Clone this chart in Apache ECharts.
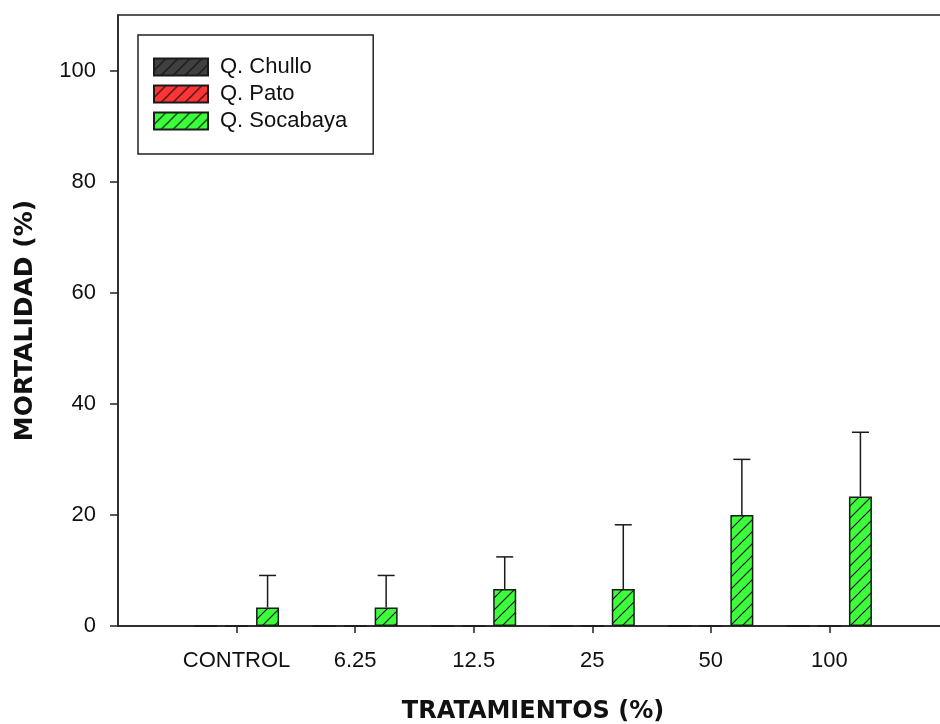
<!DOCTYPE html>
<html>
<head>
<meta charset="utf-8">
<script src="https://cdn.jsdelivr.net/npm/echarts@6/dist/echarts.min.js"></script>
<style>
html,body{margin:0;padding:0;background:#fff;}
#chart{width:940px;height:724px;}
</style>
</head>
<body>
<div id="chart"></div>
<script>
// ---- data ----
const categories = ['', 'CONTROL', '6.25', '12.5', '25', '50', '100', ''];
const seriesNames = ['Q. Chullo', 'Q. Pato', 'Q. Socabaya'];
const chulloValues = [null, 0, 0, 0, 0, 0, 0, null];
const patoValues = [null, 0, 0, 0, 0, 0, 0, null];
const socabayaValues = [null, 3.33, 3.33, 6.67, 6.67, 20, 23.33, null];
const socabayaErrors = [null, 5.77, 5.77, 5.77, 11.55, 10, 11.55, null];
const yTicks = [0, 20, 40, 60, 80, 100];

// ---- style ----
const BAR_W = 23, BAR_GAP = 8;
function hatch(base) {
  const s = 12;
  const c = document.createElement('canvas');
  c.width = s; c.height = s;
  const g = c.getContext('2d');
  g.fillStyle = base; g.fillRect(0, 0, s, s);
  g.strokeStyle = '#111'; g.lineWidth = 1.2;
  g.beginPath();
  g.moveTo(-1, s + 1); g.lineTo(s + 1, -1);
  g.moveTo(-1, 1); g.lineTo(1, -1);
  g.moveTo(s - 1, s + 1); g.lineTo(s + 1, s - 1);
  g.stroke();
  return { image: c, repeat: 'repeat' };
}
const fills = [hatch('#404040'), hatch('#ff3535'), hatch('#3cff3c')];
const FONT = 'Liberation Sans, Arial, sans-serif';

const chart = echarts.init(document.getElementById('chart'), null, { renderer: 'canvas' });

function barSeries(i, data) {
  return {
    name: seriesNames[i], type: 'bar', data: data,
    barWidth: BAR_W, barGap: (BAR_GAP / BAR_W * 100) + '%',
    itemStyle: { color: fills[i], borderColor: '#1a1a1a', borderWidth: 1.5 },
    emphasis: { disabled: true }, animation: false
  };
}

const errData = socabayaValues.map((v, i) => v == null ? null : [i, v, v + socabayaErrors[i]]).filter(d => d);

const option = {
  backgroundColor: '#fff',
  animation: false,
  grid: { left: 118, top: 15, right: -8, bottom: 98, outerBoundsMode: 'none', containLabel: false,
    show: true, borderColor: '#222', borderWidth: 1.5 },
  legend: {
    data: seriesNames,
    orient: 'vertical', left: 138, top: 35,
    itemWidth: 54, itemHeight: 17, itemGap: 5,
    padding: [21, 26, 22, 15],
    borderColor: '#222', borderWidth: 1.5,
    icon: 'rect',
    selectedMode: false,
    textStyle: { fontFamily: FONT, fontSize: 22, color: '#111', lineHeight: 17, padding: [0, 0, 0, 7] }
  },
  xAxis: {
    type: 'category', data: categories, boundaryGap: false,
    name: 'TRATAMIENTOS (%)', nameLocation: 'middle', nameGap: 74,
    nameTextStyle: { fontFamily: 'DejaVu Sans', fontWeight: 'bold', fontSize: 24, color: '#111' },
    axisLine: { lineStyle: { color: '#222', width: 1.5 } },
    axisTick: { show: true, length: 7, lineStyle: { color: '#222', width: 1.5 },
      interval: (idx) => categories[idx] !== '' },
    axisLabel: { fontFamily: FONT, fontSize: 22, color: '#111', margin: 24, interval: 0 },
    splitLine: { show: false }
  },
  yAxis: {
    type: 'value', min: 0, max: 110, interval: 20,
    name: 'MORTALIDAD (%)', nameLocation: 'middle', nameGap: 80, nameRotate: 90,
    nameTextStyle: { fontFamily: 'DejaVu Sans', fontWeight: 'bold', fontSize: 25, color: '#111' },
    axisLine: { show: true, lineStyle: { color: '#222', width: 1.5 } },
    axisTick: { show: true, length: 8, lineStyle: { color: '#222', width: 1.5 }, customValues: yTicks },
    axisLabel: { fontFamily: FONT, fontSize: 22, color: '#111', margin: 22, customValues: yTicks },
    splitLine: { show: false }
  },
  series: [
    barSeries(0, chulloValues),
    barSeries(1, patoValues),
    barSeries(2, socabayaValues),
    {
      type: 'custom', name: 'err', data: errData, z: 1,
      encode: { x: 0, y: [1, 2] },
      renderItem: function (params, api) {
        const off = BAR_W + BAR_GAP;
        const p0 = api.coord([api.value(0), api.value(1)]);
        const p1 = api.coord([api.value(0), api.value(2)]);
        const x = p0[0] + off, half = 8.5;
        return {
          type: 'group',
          children: [
            { type: 'line', shape: { x1: x, y1: p0[1], x2: x, y2: p1[1] }, style: { stroke: '#1a1a1a', lineWidth: 1.5 } },
            { type: 'line', shape: { x1: x - half, y1: p1[1], x2: x + half, y2: p1[1] }, style: { stroke: '#1a1a1a', lineWidth: 1.5 } }
          ]
        };
      }
    }
  ]
};
chart.setOption(option);
</script>
</body>
</html>
